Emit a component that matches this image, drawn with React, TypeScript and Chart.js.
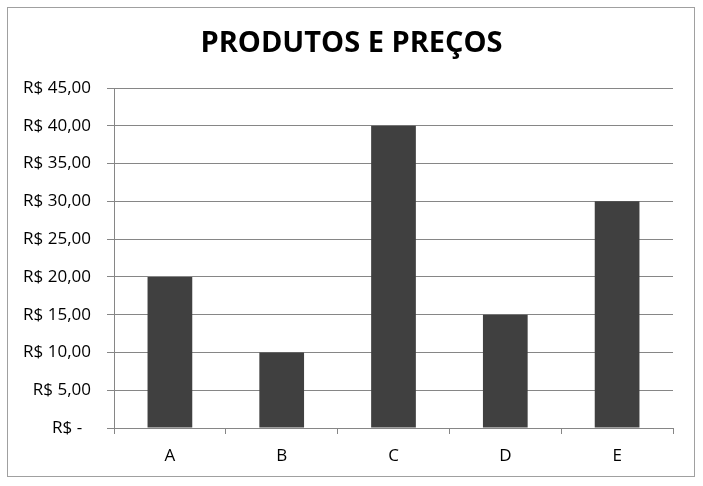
import React, { useEffect, useRef } from "react";
import { Chart, registerables } from "chart.js";

Chart.register(...registerables);

const categories = ["A", "B", "C", "D", "E"];
const prices = [20, 10, 40, 15, 30];
const chartTitle = "PRODUTOS E PREÇOS";

const FONT = "'Open Sans', 'Noto Sans', sans-serif";

const formatReal = (v: number) =>
  v === 0 ? "R$ -  " : "R$ " + v.toFixed(2).replace(".", ",");

// moldura cinza e título centrado no quadro inteiro
const framePlugin = {
  id: "frame",
  beforeDraw(chart: any) {
    const ctx = chart.ctx;
    ctx.save();
    ctx.fillStyle = "#ffffff";
    ctx.fillRect(0, 0, chart.width, chart.height);
    ctx.strokeStyle = "#a0a0a0";
    ctx.lineWidth = 1;
    ctx.strokeRect(7.5, 7.5, 687, 469);
    ctx.fillStyle = "#000000";
    ctx.font = "bold 29px " + FONT;
    ctx.textAlign = "center";
    ctx.textBaseline = "middle";
    ctx.fillText(chartTitle, chart.width / 2, 44);
    ctx.restore();
  },
};

export default function App() {
  const canvasRef = useRef<HTMLCanvasElement | null>(null);
  const chartRef = useRef<Chart | null>(null);

  useEffect(() => {
    document.body.style.margin = "0";
    const ctx = canvasRef.current?.getContext("2d");
    if (!ctx) return;
    if (chartRef.current) chartRef.current.destroy();

    chartRef.current = new Chart(ctx, {
      type: "bar",
      data: {
        labels: categories,
        datasets: [
          {
            label: "Preço",
            data: prices,
            backgroundColor: "#404040",
            borderWidth: 0,
            categoryPercentage: 1,
            barPercentage: 0.4,
          },
        ],
      },
      options: {
        animation: false,
        responsive: false,
        devicePixelRatio: 1,
        layout: { padding: { top: 88, left: 0, right: 30, bottom: 10 } },
        plugins: {
          legend: { display: false },
          tooltip: { enabled: false },
          title: { display: false },
        },
        scales: {
          x: {
            grid: {
              display: true,
              offset: true,
              drawOnChartArea: false,
              drawTicks: true,
              tickLength: 6,
              color: "#868686",
            },
            border: { display: true, color: "#868686" },
            ticks: {
              color: "#000000",
              font: { family: FONT, size: 17 },
              padding: 12,
            },
            afterFit: (scale: any) => {
              scale.height = 48;
            },
          },
          y: {
            min: 0,
            max: 45,
            ticks: {
              stepSize: 5,
              color: "#000000",
              font: { family: FONT, size: 17 },
              padding: 16,
              callback: (v: any) => formatReal(Number(v)),
            },
            grid: {
              color: "#868686",
              tickLength: 7,
            },
            border: { display: true, color: "#868686" },
            afterFit: (scale: any) => {
              scale.width = 114;
            },
          },
        },
      },
      plugins: [framePlugin],
    });

    return () => {
      if (chartRef.current) {
        chartRef.current.destroy();
        chartRef.current = null;
      }
    };
  }, []);

  return (
    <div style={{ width: 703, height: 486 }}>
      <canvas ref={canvasRef} width={703} height={486}></canvas>
    </div>
  );
}
